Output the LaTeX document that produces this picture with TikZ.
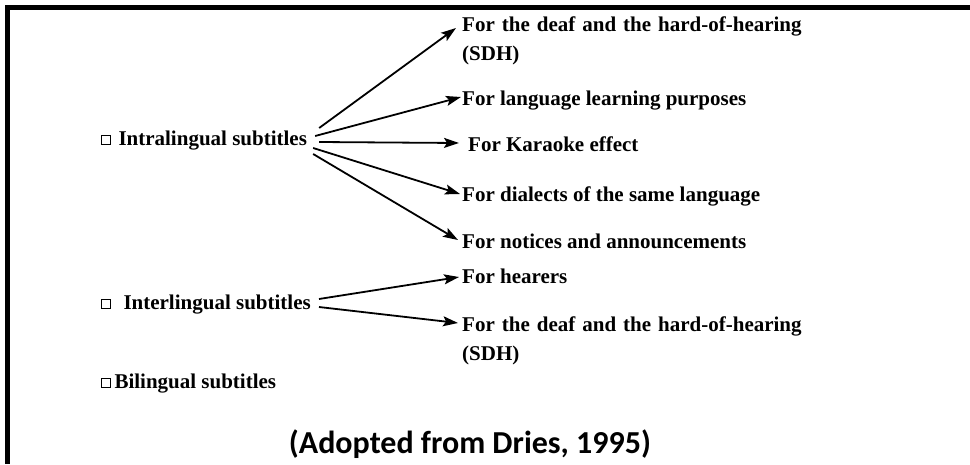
\documentclass[tikz,border=0pt]{standalone}
\usepackage{fontspec}
\setmainfont{Liberation Serif}
\newfontfamily\calib{Carlito}
\usetikzlibrary{arrows.meta}
\newcommand\sqbox{{\setlength{\fboxsep}{0pt}\setlength{\fboxrule}{0.9pt}\raisebox{1.5pt}{\fbox{\rule{0pt}{7.5pt}\rule{7.5pt}{0pt}}}}}
\begin{document}
\begin{tikzpicture}[x=1pt,y=-1pt,
  lbl/.style={anchor=base west, inner sep=0pt, font=\fontsize{21}{29}\selectfont\bfseries, align=left},
  arr/.style={line width=1.8pt, -{Stealth[length=15pt,width=10pt,inset=3pt]}}]
\useasboundingbox (0,0) rectangle (970,464);
\fill[white] (0,0) rectangle (970,464);
\draw[line width=5pt, line join=miter] (970,7.5) -- (7.5,7.5) -- (7.5,464);

% sources
\node[lbl] (intra) at (101,145) {\sqbox\hspace{8pt}Intralingual subtitles};
\node[lbl] (inter) at (101,309) {\sqbox\hspace{13pt}Interlingual subtitles};
\node[lbl] (bil)   at (101,388) {\sqbox\hspace{4pt}Bilingual subtitles};

% targets (multi-line nodes: base = last line)
\node[lbl] (t1) at (462,60)  {{\spaceskip=7pt For the deaf and the hard-of-hearing}\\(SDH)};
\node[lbl] (t2) at (462,105) {For language learning purposes};
\node[lbl] (t3) at (468,151) {For Karaoke effect};
\node[lbl] (t4) at (462,201) {For dialects of the same language};
\node[lbl] (t5) at (462,248) {For notices and announcements};
\node[lbl] (t6) at (462,283) {For hearers};
\node[lbl] (t7) at (462,360) {{\spaceskip=7pt For the deaf and the hard-of-hearing}\\(SDH)};

\node[anchor=base, inner sep=0pt, font=\calib\bfseries\fontsize{32}{38}\selectfont] (src) at (470,453) {(Adopted from Dries, 1995)};

% connectors
\draw[arr] ([xshift=12pt,yshift=17pt]intra.base east) -- ([xshift=-6pt,yshift=32pt]t1.base west);
\draw[arr] ([xshift=8pt,yshift=9pt]intra.base east) -- ([xshift=-1pt,yshift=8pt]t2.base west);
\draw[arr] ([xshift=12pt,yshift=3pt]intra.base east) -- ([xshift=-9pt,yshift=8pt]t3.base west);
\draw[arr] ([xshift=6pt,yshift=-3pt]intra.base east) -- ([xshift=-2pt,yshift=7pt]t4.base west);
\draw[arr] ([xshift=6pt,yshift=-9pt]intra.base east) -- ([xshift=-4pt,yshift=8pt]t5.base west);
\draw[arr] ([xshift=8pt,yshift=10pt]inter.base east) -- ([xshift=-3pt,yshift=6pt]t6.base west);
\draw[arr] ([xshift=8pt,yshift=2pt]inter.base east) -- ([xshift=-4pt,yshift=37pt]t7.base west);
\end{tikzpicture}
\end{document}
